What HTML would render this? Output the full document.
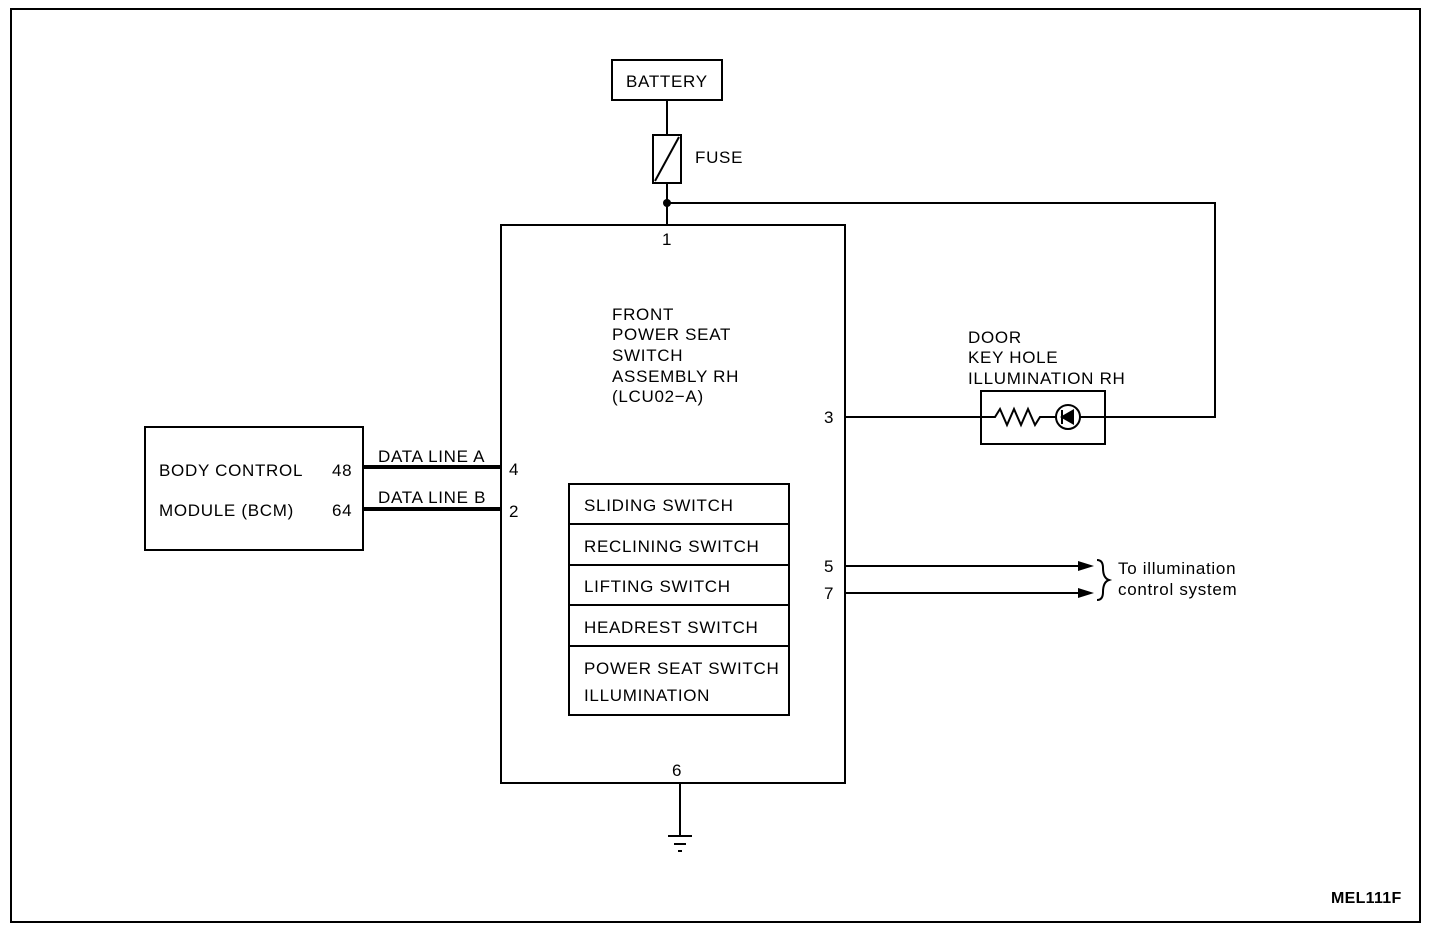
<!DOCTYPE html>
<html><head><style>body{margin:0;background:#fff}svg{display:block}text{font-family:"Liberation Sans",sans-serif;font-size:17px;fill:#000;letter-spacing:0.7px}</style></head><body>
<svg width="1440" height="930" viewBox="0 0 1440 930" xmlns="http://www.w3.org/2000/svg">
<g fill="none" stroke="#000" stroke-width="2">
<rect x="11" y="9" width="1409" height="913"/>
<rect x="612" y="60" width="110" height="40"/>
<line x1="667" y1="100" x2="667" y2="135"/>
<rect x="653" y="135" width="28" height="48"/>
<line x1="655" y1="181" x2="679" y2="137"/>
<line x1="667" y1="183" x2="667" y2="225"/>
<polyline points="667,203 1215,203 1215,417 1105,417"/>
<rect x="501" y="225" width="344" height="558"/>
<line x1="845" y1="417" x2="981" y2="417"/>
<rect x="981" y="391" width="124" height="53"/>
<polyline points="981,417 995,417 1000,409 1007,425 1014,409 1021,425 1028,409 1035,425 1040,417 1056,417"/>
<circle cx="1068" cy="417" r="12"/>
<line x1="1080" y1="417" x2="1105" y2="417"/>
<line x1="1062" y1="410" x2="1062" y2="424"/>
<rect x="145" y="427" width="218" height="123"/>
<line x1="363" y1="467" x2="501" y2="467" stroke-width="4"/>
<line x1="363" y1="509" x2="501" y2="509" stroke-width="4"/>
<rect x="569" y="484" width="220" height="231"/>
<line x1="569" y1="524" x2="789" y2="524"/>
<line x1="569" y1="565" x2="789" y2="565"/>
<line x1="569" y1="605" x2="789" y2="605"/>
<line x1="569" y1="646" x2="789" y2="646"/>
<line x1="845" y1="566" x2="1080" y2="566"/>
<line x1="845" y1="593" x2="1080" y2="593"/>
<path d="M1097,560 q6,0 6,8 q0,10 6,12 q-6,2 -6,12 q0,8 -6,8"/>
<line x1="680" y1="783" x2="680" y2="835"/>
<line x1="668" y1="836" x2="692" y2="836"/>
<line x1="674" y1="844" x2="686" y2="844"/>
<line x1="678" y1="851" x2="682" y2="851"/>
</g>
<circle cx="667" cy="203" r="4"/>
<polygon points="1060,417 1074,409 1074,425"/>
<polygon points="1094,566 1078,561 1078,571"/>
<polygon points="1094,593 1078,588 1078,598"/>
<text x="626" y="87">BATTERY</text>
<text x="695" y="163">FUSE</text>
<text x="662" y="245">1</text>
<text x="612" y="320">FRONT</text>
<text x="612" y="340">POWER SEAT</text>
<text x="612" y="361">SWITCH</text>
<text x="612" y="382">ASSEMBLY RH</text>
<text x="612" y="402">(LCU02−A)</text>
<text x="968" y="343">DOOR</text>
<text x="968" y="363">KEY HOLE</text>
<text x="968" y="384">ILLUMINATION RH</text>
<text x="824" y="423">3</text>
<text x="159" y="476">BODY CONTROL</text>
<text x="332" y="476">48</text>
<text x="159" y="516">MODULE (BCM)</text>
<text x="332" y="516">64</text>
<text x="378" y="462">DATA LINE A</text>
<text x="378" y="503">DATA LINE B</text>
<text x="509" y="475">4</text>
<text x="509" y="517">2</text>
<text x="584" y="511">SLIDING SWITCH</text>
<text x="584" y="552">RECLINING SWITCH</text>
<text x="584" y="592">LIFTING SWITCH</text>
<text x="584" y="633">HEADREST SWITCH</text>
<text x="584" y="674">POWER SEAT SWITCH</text>
<text x="584" y="701">ILLUMINATION</text>
<text x="824" y="572">5</text>
<text x="824" y="599">7</text>
<text x="1118" y="574">To illumination</text>
<text x="1118" y="595">control system</text>
<text x="672" y="776">6</text>
<text x="1331" y="903" style="font-size:16px;font-weight:bold;letter-spacing:0.3px">MEL111F</text>
</svg>
</body></html>
